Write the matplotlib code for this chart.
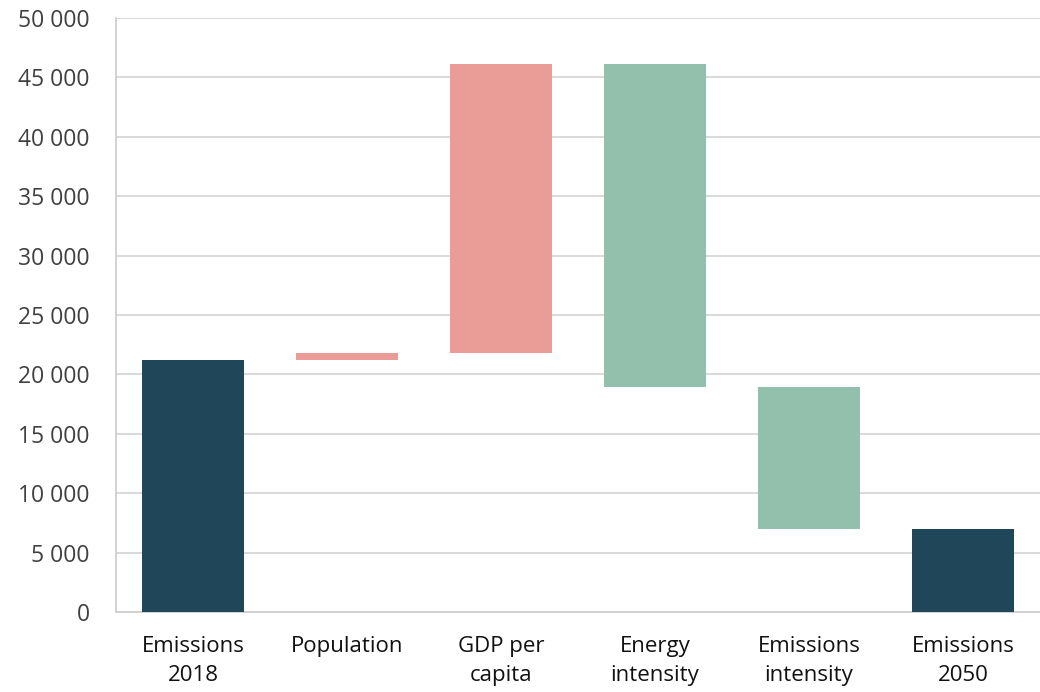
import numpy as np
import matplotlib.pyplot as plt
from matplotlib.ticker import FuncFormatter

plt.rcParams['font.family'] = ['Open Sans', 'DejaVu Sans']

# waterfall: start, drivers, end (kt CO2)
categories = ['Emissions\n2018', 'Population', 'GDP per\ncapita',
              'Energy\nintensity', 'Emissions\nintensity', 'Emissions\n2050']
start_value = 21200
changes = [600, 24300, -27200, -11900]
end_value = 7000

dark = '#1F4659'
up_col = '#EA9C96'
down_col = '#92C0AC'

# build bottoms/heights for the floating bars
bottoms = [0]
heights = [start_value]
colors = [dark]
level = start_value
for c in changes:
    if c >= 0:
        bottoms.append(level)
        colors.append(up_col)
    else:
        bottoms.append(level + c)
        colors.append(down_col)
    heights.append(abs(c))
    level += c
bottoms.append(0)
heights.append(end_value)
colors.append(dark)

fig = plt.figure(figsize=(10.4, 6.92), dpi=100)
ax = fig.add_axes([116/1040, 80/692, 924/1040, 594/692])

x = np.arange(len(categories))
ax.bar(x, heights, bottom=bottoms, width=0.66, color=colors, zorder=3)

ax.set_xlim(-0.5, len(categories) - 0.5)
ax.set_ylim(0, 50000)
ax.set_yticks(np.arange(0, 50001, 5000))
ax.yaxis.set_major_formatter(FuncFormatter(lambda v, p: '{:,.0f}'.format(v).replace(',', ' ')))
ax.set_xticks(x)
ax.set_xticklabels(categories, linespacing=1.52)

ax.grid(axis='y', color='#CFCFCF', linewidth=1.1, zorder=0)
for s in ['top', 'right']:
    ax.spines[s].set_visible(False)
for s in ['left', 'bottom']:
    ax.spines[s].set_color('#CFCFCF')
    ax.spines[s].set_linewidth(1.3)

ax.tick_params(axis='y', length=0, pad=19, labelsize=16.5, labelcolor='#404040')
ax.tick_params(axis='x', length=0, pad=17, labelsize=16, labelcolor='#111111')

plt.savefig('out.png', dpi=100)
